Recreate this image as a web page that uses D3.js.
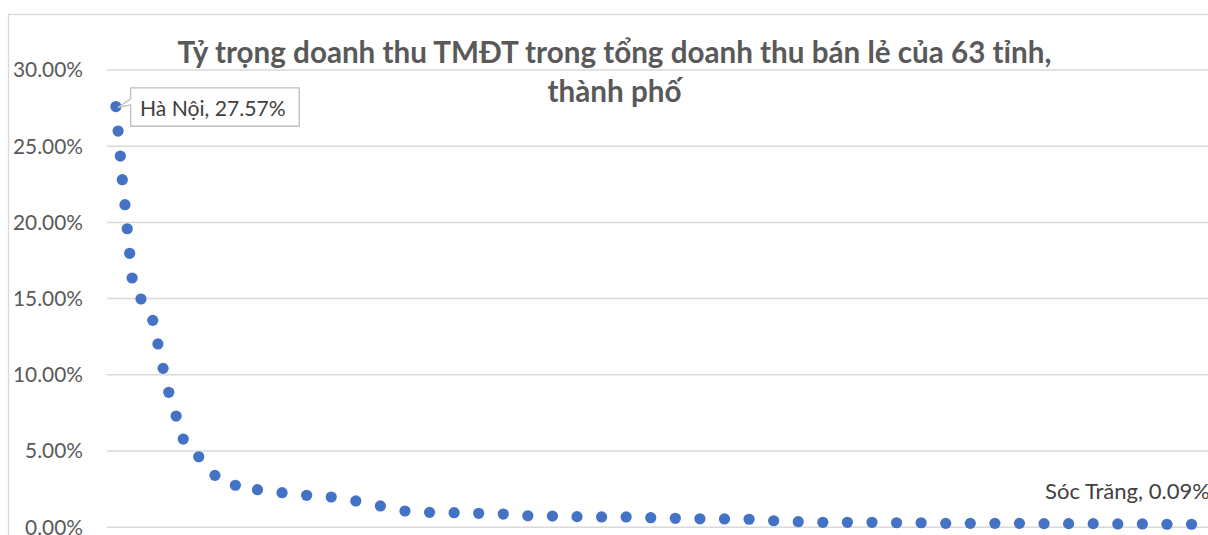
<!DOCTYPE html>
<html><head><meta charset="utf-8">
<script src="https://cdn.jsdelivr.net/npm/d3@7"></script>
<style>html,body{margin:0;padding:0;background:#fff;overflow:hidden}</style>
</head><body>
<svg id="chart" width="1208" height="535"></svg>
<script>
// ---------- data ----------
const titleLines = ["Tỷ trọng doanh thu TMĐT trong tổng doanh thu bán lẻ của 63 tỉnh,", "thành phố"];
// x positions (as plotted)
const xPositions = [0.24,0.33,0.42,0.50,0.61,0.70,0.80,0.90,1.26,1.74,1.95,2.16,2.39,2.69,2.98,3.61,4.27,5.10,
  6,7,8,9,10,11,12,13,14,15,16,17,18,19,20,21,22,23,24,25,26,27,28,29,30,31,32,33,34,35,36,37,38,39,40,41,42,43,44,
  45,46,47,48,49,50];
// share of e-commerce revenue in total retail revenue (%)
const shares = [27.57,25.96,24.32,22.77,21.13,19.55,17.94,16.32,14.94,13.54,11.99,10.39,8.82,7.26,5.75,4.59,3.37,2.72,
  2.43,2.23,2.06,1.95,1.69,1.36,1.03,0.94,0.92,0.88,0.83,0.72,0.70,0.66,0.64,0.64,0.59,0.55,0.52,0.51,0.49,0.39,0.33,
  0.29,0.29,0.29,0.26,0.26,0.22,0.22,0.22,0.22,0.20,0.20,0.20,0.18,0.18,0.16,0.16,
  0.15,0.14,0.13,0.12,0.11,0.09];
const yTicks = [0,5,10,15,20,25,30];
const labelIndex = [0, 62];
const labelNames = ["Hà Nội", "Sóc Trăng"];

// ---------- layout ----------
const W = 1208, H = 535;
const plotLeft = 107, plotTop = 69.5, plotBottom = 526.7, plotRight = 1400;
const x0px = 110, step = 24.58;
const FONT = "Lato, 'Open Sans', sans-serif";

const svg = d3.select("#chart");
const x = d3.scaleLinear().domain([0, 51]).range([x0px, x0px + 51 * step]);
const y = d3.scaleLinear().domain([0, 30]).range([plotBottom, plotTop]);

function fit(sel, target) {
  const n = sel.node();
  const fs = parseFloat(sel.attr("font-size"));
  const w = n.getComputedTextLength();
  sel.attr("font-size", (fs * target / w).toFixed(2));
}

// chart border
svg.append("rect").attr("x", 8.5).attr("y", 14.5).attr("width", W + 20).attr("height", H + 20)
  .attr("fill", "#fff").attr("stroke", "#d9d9d9").attr("stroke-width", 1.3);

// y axis with gridlines
const yAxis = d3.axisLeft(y).tickValues(yTicks)
  .tickFormat(d => d3.format(".2f")(d) + "%")
  .tickSizeInner(-(plotRight - plotLeft)).tickSizeOuter(0).tickPadding(24);
const gy = svg.append("g").attr("transform", `translate(${plotLeft},0)`).call(yAxis);
gy.select(".domain").remove();
gy.selectAll(".tick line").attr("stroke", "#d9d9d9").attr("stroke-width", 1.5);
const tickTexts = gy.selectAll(".tick text").attr("fill", "#595959")
  .attr("font-family", FONT).attr("font-size", 20).attr("dy", "0.35em");
// size font so "30.00%" is ~70px wide
const t30 = gy.selectAll(".tick text").filter(d => d === 30);
const w30 = t30.node().getComputedTextLength();
const tickFs = 20 * 70 / w30;
tickTexts.attr("font-size", tickFs.toFixed(2));

// points
svg.append("g").selectAll("circle").data(shares).join("circle")
  .attr("cx", (d, i) => x(xPositions[i]))
  .attr("cy", d => y(d))
  .attr("r", 5.6)
  .attr("fill", "#4472C4");

// Hà Nội label with callout
{
  const i = labelIndex[0];
  const px = x(xPositions[i]), py = y(shares[i]);
  const g = svg.append("g");
  const box = g.append("path");
  const t = g.append("text").attr("x", px + 24).attr("y", py + 9.3)
    .attr("font-family", FONT).attr("font-size", 20).attr("fill", "#404040")
    .text(`${labelNames[0]}, ${d3.format(".2f")(shares[i])}%`);
  fit(t, 146);
  const L = px + 14.8, R = px + 24 + 146 + 13.3, T = py - 18.7, B = py + 19.7;
  box.attr("d", `M${L},${T} H${R} V${B} H${L} V${T + 17} L${px + 2},${py + 1} L${L},${T + 11} Z`)
    .attr("fill", "#fff").attr("stroke", "#bfbfbf").attr("stroke-width", 1.3);
}

// Sóc Trăng label
{
  const i = labelIndex[1];
  const px = x(xPositions[i]), py = y(shares[i]);
  const t = svg.append("text").attr("x", px - 294).attr("y", py - 26.8)
    .attr("font-family", FONT).attr("font-size", 20).attr("fill", "#404040")
    .text(`${labelNames[1]}, ${d3.format(".2f")(shares[i])}%`);
  fit(t, 165);
}

// title
const title = svg.append("g").attr("font-family", FONT).attr("font-weight", 700).attr("fill", "#595959");
const tl1 = title.append("text").attr("x", 614.5).attr("y", 63.3).attr("text-anchor", "middle")
  .attr("font-size", 26).text(titleLines[0]);
fit(tl1, 874);
title.append("text").attr("x", 614.5).attr("y", 101.7).attr("text-anchor", "middle")
  .attr("font-size", tl1.attr("font-size")).text(titleLines[1]);
</script>
</body></html>
